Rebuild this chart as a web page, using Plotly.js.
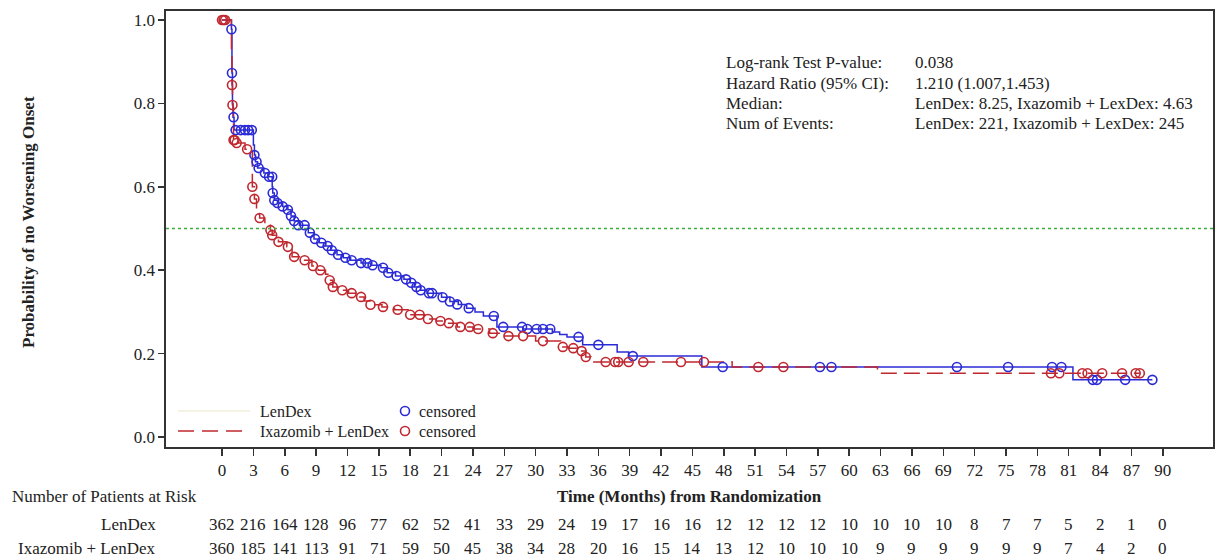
<!DOCTYPE html>
<html>
<head>
<meta charset="utf-8">
<script src="https://cdn.plot.ly/plotly-3.0.1.min.js"></script>
<style>
  html, body { margin: 0; padding: 0; background: #fff; }
  #chart { width: 1215px; height: 559px; }
</style>
</head>
<body>
<div id="chart"></div>
<script>
// Kaplan-Meier estimate: time to worsening onset, by arm
const lenDexTimes = [0, 0.9, 0.95, 1.0, 1.05, 1.15, 3.0, 3.1, 3.2, 3.4, 4.0, 4.4, 4.8, 4.85, 5.0, 5.3, 5.8, 6.3, 6.6, 6.9, 7.4, 8.25, 8.8, 9.3, 9.9, 10.4, 11.0, 11.6, 12.3, 13.3, 14.2, 15.2, 15.8, 16.6, 17.4, 18.0, 18.4, 19.0, 19.6, 21.0, 21.8, 22.6, 23.4, 24.2, 25.0, 26.3, 28.8, 31.6, 32.3, 33.0, 34.5, 37.8, 38.9, 45.9, 81.4, 89.0];
const lenDexSurv = [1.0, 0.978, 0.873, 0.80, 0.767, 0.736, 0.70, 0.676, 0.66, 0.645, 0.633, 0.624, 0.60, 0.585, 0.568, 0.561, 0.553, 0.545, 0.53, 0.518, 0.508, 0.49, 0.475, 0.466, 0.458, 0.448, 0.437, 0.43, 0.424, 0.417, 0.412, 0.406, 0.394, 0.386, 0.378, 0.37, 0.36, 0.352, 0.345, 0.335, 0.325, 0.318, 0.309, 0.30, 0.29, 0.264, 0.259, 0.252, 0.246, 0.24, 0.221, 0.204, 0.194, 0.168, 0.137, 0.137];

const lenDexCensTimes = [0.9, 0.95, 1.1, 1.3, 1.8, 2.2, 2.5, 2.85, 3.1, 3.3, 3.5, 4.1, 4.5, 4.8, 4.85, 5.0, 5.3, 5.8, 6.3, 6.6, 6.9, 7.3, 7.9, 8.4, 8.9, 9.5, 10.1, 10.5, 11.1, 11.8, 12.4, 13.3, 13.9, 14.4, 15.4, 15.9, 16.7, 17.6, 18.1, 18.6, 19.0, 19.8, 20.1, 21.1, 21.8, 22.5, 23.6, 26.0, 26.9, 28.7, 29.2, 30.1, 30.7, 31.4, 34.1, 36.0, 39.3, 47.9, 57.2, 58.3, 70.3, 75.2, 79.4, 80.3, 83.3, 83.7, 86.4, 89.0];
const lenDexCensSurv = [0.978, 0.873, 0.767, 0.736, 0.736, 0.736, 0.736, 0.736, 0.676, 0.66, 0.645, 0.633, 0.624, 0.624, 0.585, 0.568, 0.561, 0.553, 0.545, 0.53, 0.518, 0.508, 0.508, 0.49, 0.475, 0.466, 0.458, 0.448, 0.437, 0.43, 0.424, 0.417, 0.417, 0.412, 0.406, 0.394, 0.386, 0.378, 0.37, 0.36, 0.352, 0.345, 0.345, 0.335, 0.325, 0.318, 0.309, 0.29, 0.264, 0.264, 0.259, 0.259, 0.259, 0.259, 0.24, 0.221, 0.194, 0.168, 0.168, 0.168, 0.168, 0.168, 0.168, 0.168, 0.137, 0.137, 0.137, 0.137];

const ixaTimes = [0, 0.9, 0.95, 1.0, 1.05, 1.1, 1.3, 2.2, 2.9, 3.1, 3.3, 3.6, 4.1, 4.63, 4.8, 5.4, 6.2, 6.7, 7.8, 8.6, 9.2, 9.9, 10.3, 10.6, 11.3, 12.1, 12.8, 13.6, 14.2, 15.3, 16.5, 17.8, 19.4, 20.5, 21.4, 22.5, 24.0, 25.6, 26.9, 30.0, 32.4, 33.2, 34.3, 34.8, 35.3, 48.8, 62.7, 87.8];
const ixaSurv = [1.0, 0.92, 0.844, 0.796, 0.79, 0.712, 0.705, 0.69, 0.60, 0.571, 0.535, 0.525, 0.51, 0.496, 0.484, 0.468, 0.456, 0.432, 0.424, 0.41, 0.40, 0.39, 0.376, 0.36, 0.352, 0.345, 0.336, 0.326, 0.317, 0.312, 0.305, 0.293, 0.283, 0.278, 0.273, 0.264, 0.259, 0.249, 0.242, 0.230, 0.216, 0.213, 0.206, 0.192, 0.18, 0.168, 0.153, 0.153];

const ixaCensTimes = [0.0, 0.15, 0.3, 0.95, 1.0, 1.1, 1.2, 1.4, 2.4, 2.9, 3.1, 3.6, 4.63, 4.8, 5.4, 6.3, 6.9, 7.9, 8.7, 9.4, 10.3, 10.6, 11.5, 12.4, 13.3, 14.2, 15.4, 16.8, 18.0, 18.9, 19.7, 20.9, 21.7, 22.8, 23.7, 24.5, 25.9, 27.4, 28.8, 30.7, 32.6, 33.6, 34.4, 34.8, 36.7, 37.6, 37.9, 38.9, 40.3, 43.9, 46.1, 51.3, 53.7, 79.3, 80.1, 82.3, 82.8, 84.2, 86.1, 87.4, 87.8];
const ixaCensSurv = [1.0, 1.0, 1.0, 0.844, 0.796, 0.712, 0.712, 0.705, 0.69, 0.60, 0.571, 0.525, 0.496, 0.484, 0.468, 0.456, 0.432, 0.424, 0.41, 0.40, 0.376, 0.36, 0.352, 0.345, 0.336, 0.317, 0.312, 0.305, 0.293, 0.293, 0.283, 0.278, 0.273, 0.264, 0.264, 0.259, 0.249, 0.242, 0.242, 0.230, 0.216, 0.213, 0.206, 0.192, 0.18, 0.18, 0.18, 0.18, 0.18, 0.18, 0.18, 0.168, 0.168, 0.153, 0.153, 0.153, 0.153, 0.153, 0.153, 0.153, 0.153];

// Number at risk table
const riskTimes = [0, 3, 6, 9, 12, 15, 18, 21, 24, 27, 30, 33, 36, 39, 42, 45, 48, 51, 54, 57, 60, 63, 66, 69, 72, 75, 78, 81, 84, 87, 90];
const riskLenDex = [362, 216, 164, 128, 96, 77, 62, 52, 41, 33, 29, 24, 19, 17, 16, 16, 12, 12, 12, 12, 10, 10, 10, 10, 8, 7, 7, 5, 2, 1, 0];
const riskIxa = [360, 185, 141, 113, 91, 71, 59, 50, 45, 38, 34, 28, 20, 16, 15, 14, 13, 12, 10, 10, 10, 9, 9, 9, 9, 9, 9, 7, 4, 2, 0];
const riskRowLabels = ['LenDex', 'Ixazomib + LenDex'];

const yTicks = [0, 0.2, 0.4, 0.6, 0.8, 1.0];
const medianLevel = 0.5;

const statLabels = ['Log-rank Test P-value:', 'Hazard Ratio (95% CI):', 'Median:', 'Num of Events:'];
const statValues = ['0.038', '1.210 (1.007,1.453)', 'LenDex: 8.25, Ixazomib + LexDex: 4.63', 'LenDex: 221, Ixazomib + LexDex: 245'];

const BLUE = '#2b2bd6';
const RED = '#c0282f';
const FONT = 'Liberation Serif, Times New Roman, serif';
const TXT = '#222';
const FS = 17;

const traces = [
  { x: lenDexTimes, y: lenDexSurv, type: 'scatter', mode: 'lines',
    line: { shape: 'hv', color: BLUE, width: 1.5 }, hoverinfo: 'skip' },
  { x: ixaTimes, y: ixaSurv, type: 'scatter', mode: 'lines',
    line: { shape: 'hv', color: RED, width: 1.5, dash: '16px,7px' }, hoverinfo: 'skip' },
  { x: lenDexCensTimes, y: lenDexCensSurv, type: 'scatter', mode: 'markers',
    marker: { symbol: 'circle-open', size: 9, color: BLUE, line: { width: 1.6, color: BLUE } }, hoverinfo: 'skip' },
  { x: ixaCensTimes, y: ixaCensSurv, type: 'scatter', mode: 'markers',
    marker: { symbol: 'circle-open', size: 9, color: RED, line: { width: 1.6, color: RED } }, hoverinfo: 'skip' }
];

// plot-area geometry used for the text placed outside it
const W = 1215, H = 559;
const M = { l: 166, r: 2, t: 11, b: 112 };
const plotW = W - M.l - M.r, plotH = H - M.t - M.b;
const px2paperX = px => (px - M.l) / plotW;
const px2paperY = py => (H - M.b - py) / plotH;

const annotations = [];
const txt = (size, extra) => Object.assign({ family: FONT, size: size, color: TXT }, extra || {});

// statistics block
statLabels.forEach((s, i) => {
  annotations.push({ x: px2paperX(724), y: px2paperY(63 + i * 20.3), xref: 'paper', yref: 'paper',
    text: s, showarrow: false, xanchor: 'left', yanchor: 'middle', font: txt(FS) });
  annotations.push({ x: px2paperX(913), y: px2paperY(63 + i * 20.3), xref: 'paper', yref: 'paper',
    text: statValues[i], showarrow: false, xanchor: 'left', yanchor: 'middle', font: txt(FS) });
});

// axis titles
annotations.push({ x: 0.5, y: px2paperY(496), xref: 'paper', yref: 'paper', text: '<b>Time (Months) from Randomization</b>',
  showarrow: false, xanchor: 'center', yanchor: 'middle', font: txt(FS) });
annotations.push({ x: px2paperX(28), y: px2paperY(222), xref: 'paper', yref: 'paper', text: '<b>Probability of no Worsening Onset</b>',
  textangle: -90, showarrow: false, xanchor: 'center', yanchor: 'middle', font: txt(FS) });

// risk table
annotations.push({ x: px2paperX(10), y: px2paperY(496), xref: 'paper', yref: 'paper', text: 'Number of Patients at Risk',
  showarrow: false, xanchor: 'left', yanchor: 'middle', font: txt(FS) });
[riskLenDex, riskIxa].forEach((row, r) => {
  const py = r === 0 ? 524 : 548;
  annotations.push({ x: px2paperX(158), y: px2paperY(py), xref: 'paper', yref: 'paper', text: riskRowLabels[r],
    showarrow: false, xanchor: 'right', yanchor: 'middle', font: txt(FS) });
  row.forEach((n, i) => {
    annotations.push({ x: riskTimes[i], y: px2paperY(py), xref: 'x', yref: 'paper', text: String(n),
      showarrow: false, xanchor: 'center', yanchor: 'middle', font: txt(FS) });
  });
});

// in-plot legend
const legRows = [
  { py: 411, label: 'LenDex', color: BLUE, line: { color: '#ebe8c6', width: 1.2 } },
  { py: 431, label: 'Ixazomib + LenDex', color: RED, line: { color: RED, width: 1.5, dash: '16px,8px' } }
];
const shapes = [
  { type: 'line', xref: 'paper', yref: 'y', x0: 0, x1: 1, y0: medianLevel, y1: medianLevel,
    line: { color: '#3cae3c', width: 1.6, dash: 'dot' } }
];
legRows.forEach(r => {
  shapes.push({ type: 'line', xref: 'paper', yref: 'paper', x0: px2paperX(178), x1: px2paperX(250),
    y0: px2paperY(r.py), y1: px2paperY(r.py), line: r.line });
  shapes.push({ type: 'circle', xref: 'paper', yref: 'paper', xsizemode: 'pixel', ysizemode: 'pixel',
    xanchor: px2paperX(405), yanchor: px2paperY(r.py), x0: -4.5, x1: 4.5, y0: -4.5, y1: 4.5,
    line: { color: r.color, width: 1.6 } });
  annotations.push({ x: px2paperX(258), y: px2paperY(r.py), xref: 'paper', yref: 'paper', text: r.label,
    showarrow: false, xanchor: 'left', yanchor: 'middle', font: txt(16) });
  annotations.push({ x: px2paperX(417), y: px2paperY(r.py), xref: 'paper', yref: 'paper', text: 'censored',
    showarrow: false, xanchor: 'left', yanchor: 'middle', font: txt(16) });
});

const layout = {
  width: W, height: H,
  margin: M,
  paper_bgcolor: '#fff', plot_bgcolor: '#fff',
  showlegend: false,
  font: txt(FS),
  xaxis: {
    range: [-5.36, 94.8], tickvals: riskTimes, ticks: 'outside', ticklen: 7, tickwidth: 1.5, tickcolor: '#333',
    showline: true, linecolor: '#333', linewidth: 1.6, mirror: true, showgrid: false, zeroline: false,
    tickfont: txt(FS)
  },
  yaxis: {
    range: [-0.024, 1.0216], tickvals: yTicks, tickformat: '.1f', ticks: 'outside', ticklen: 6, tickwidth: 1.5, tickcolor: '#333',
    showline: true, linecolor: '#333', linewidth: 1.6, mirror: true, showgrid: false, zeroline: false,
    tickfont: txt(FS)
  },
  shapes: shapes,
  annotations: annotations
};

Plotly.newPlot('chart', traces, layout, { staticPlot: true, displayModeBar: false });
</script>
</body>
</html>
